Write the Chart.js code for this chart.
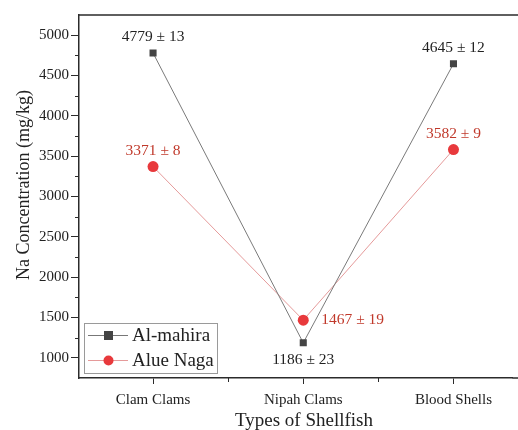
<!DOCTYPE html>
<html>
<head>
<meta charset="utf-8">
<script src="https://cdn.jsdelivr.net/npm/chart.js@4"></script>
<style>
  html, body { margin: 0; padding: 0; background: #fff; overflow: hidden; }
  #wrap { width: 518px; height: 430px; }
</style>
</head>
<body>
<div id="wrap"><canvas id="naChart" width="518" height="430"></canvas></div>
<script>
// Dati
const categories = ['Clam Clams', 'Nipah Clams', 'Blood Shells'];
const alMahira = [4779, 1186, 4645];
const alMahiraErr = [13, 23, 12];
const alueNaga = [3371, 1467, 3582];
const alueNagaErr = [8, 19, 9];
const yTicks = [1000, 1500, 2000, 2500, 3000, 3500, 4000, 4500, 5000];
const yMinorTicks = [1250, 1750, 2250, 2750, 3250, 3750, 4250, 4750];
const xMinorTicks = [0.5, 1.5];

const serif = "'Liberation Serif', 'DejaVu Serif', serif";
const axisColor = '#2b2b2b';
const darkGray = '#444444';
const red = '#e8393c';
const redText = '#c0392b';

// posizione delle etichette rispetto al punto: [dx, dy, allineamento]
const labelPlace = {
  0: [[0, -16, 'center'], [0, 17, 'center'], [0, -16, 'center']],
  1: [[0, -16, 'center'], [18, 0, 'left'], [0, -16, 'center']]
};

const toPoints = arr => arr.map((v, i) => ({ x: i, y: v }));

// Plugin per cornice, tacche minori, etichette, titoli e legenda
const decorPlugin = {
  id: 'decor',
  afterDraw(chart) {
    const { ctx, chartArea: a, scales: { x, y } } = chart;
    ctx.save();
    // cornice superiore (e prolungamento dell'asse x fino al bordo)
    ctx.strokeStyle = axisColor;
    ctx.lineWidth = 1.5;
    ctx.beginPath();
    ctx.moveTo(a.left, a.top);
    ctx.lineTo(518, a.top);
    ctx.moveTo(a.right, a.bottom);
    ctx.lineTo(518, a.bottom);
    ctx.stroke();
    // tacche minori
    ctx.lineWidth = 1;
    yMinorTicks.forEach(v => {
      const py = Math.round(y.getPixelForValue(v)) + 0.5;
      ctx.beginPath();
      ctx.moveTo(a.left - 4, py);
      ctx.lineTo(a.left, py);
      ctx.stroke();
    });
    xMinorTicks.forEach(v => {
      const px = Math.round(x.getPixelForValue(v)) + 0.5;
      ctx.beginPath();
      ctx.moveTo(px, a.bottom);
      ctx.lineTo(px, a.bottom + 4);
      ctx.stroke();
    });

    // etichette dei valori
    ctx.font = '15.5px ' + serif;
    ctx.textBaseline = 'middle';
    [[alMahira, alMahiraErr, '#222'], [alueNaga, alueNagaErr, redText]].forEach(([vals, errs, col], d) => {
      const meta = chart.getDatasetMeta(d);
      vals.forEach((v, i) => {
        const pt = meta.data[i];
        const [dx, dy, al] = labelPlace[d][i];
        ctx.fillStyle = col;
        ctx.textAlign = al;
        ctx.fillText(v + ' \u00b1 ' + errs[i], pt.x + dx, pt.y + dy);
      });
    });

    // titoli degli assi
    ctx.fillStyle = '#222';
    ctx.font = '19px ' + serif;
    ctx.textAlign = 'center';
    ctx.fillText('Types of Shellfish', 304, 421);
    ctx.save();
    ctx.translate(24, 185);
    ctx.rotate(-Math.PI / 2);
    ctx.font = '18px ' + serif;
    ctx.fillText('Na Concentration (mg/kg)', 0, 0);
    ctx.restore();

    // legenda
    const lx = 84, ly = 323, lw = 133, lh = 50;
    ctx.fillStyle = '#fff';
    ctx.fillRect(lx, ly, lw, lh);
    ctx.strokeStyle = '#9a9a9a';
    ctx.lineWidth = 1;
    ctx.strokeRect(lx + 0.5, ly + 0.5, lw, lh);
    const items = [['Al-mahira', '#777', darkGray, 'rect'], ['Alue Naga', '#e59a9a', red, 'circle']];
    items.forEach(([txt, lineCol, markCol, shape], k) => {
      const cy = ly + 12 + k * 25;
      ctx.strokeStyle = lineCol;
      ctx.beginPath();
      ctx.moveTo(lx + 4, cy + 0.5);
      ctx.lineTo(lx + 44, cy + 0.5);
      ctx.stroke();
      ctx.fillStyle = markCol;
      if (shape === 'rect') {
        ctx.fillRect(lx + 20, cy - 4, 9, 9);
      } else {
        ctx.beginPath();
        ctx.arc(lx + 24.5, cy + 0.5, 5, 0, Math.PI * 2);
        ctx.fill();
      }
      ctx.fillStyle = '#222';
      ctx.font = '19px ' + serif;
      ctx.textAlign = 'left';
      ctx.fillText(txt, lx + 48, cy + 1);
    });
    ctx.restore();
  }
};

new Chart(document.getElementById('naChart'), {
  type: 'line',
  data: {
    datasets: [
      {
        label: 'Al-mahira',
        data: toPoints(alMahira),
        borderColor: '#7a7a7a',
        borderWidth: 1,
        pointStyle: 'rect',
        pointRadius: 5,
        pointBackgroundColor: darkGray,
        pointBorderColor: darkGray,
        pointBorderWidth: 0
      },
      {
        label: 'Alue Naga',
        data: toPoints(alueNaga),
        borderColor: '#e59a9a',
        borderWidth: 1,
        pointStyle: 'circle',
        pointRadius: 5.5,
        pointBackgroundColor: red,
        pointBorderColor: red,
        pointBorderWidth: 0
      }
    ]
  },
  options: {
    responsive: false,
    animation: false,
    layout: { padding: { top: 15, right: 0, left: 0, bottom: 0 } },
    plugins: { legend: { display: false }, tooltip: { enabled: false } },
    scales: {
      x: {
        type: 'linear',
        min: -0.493,
        max: 2.393,
        afterBuildTicks: s => { s.ticks = categories.map((c, i) => ({ value: i })); },
        afterFit: s => { s.height = 52; s.paddingLeft = 0; s.paddingRight = 0; },
        ticks: {
          color: '#222',
          font: { family: serif, size: 15 },
          padding: 7,
          maxRotation: 0,
          callback: v => categories[v] || ''
        },
        grid: { drawOnChartArea: false, drawTicks: true, tickLength: 6, tickColor: axisColor, tickWidth: 1 },
        border: { color: axisColor, width: 1.5 }
      },
      y: {
        min: 750,
        max: 5250,
        afterBuildTicks: s => { s.ticks = yTicks.map(v => ({ value: v })); },
        afterFit: s => { s.width = 79; },
        ticks: {
          color: '#222',
          font: { family: serif, size: 15 },
          padding: 2,
          callback: v => String(v)
        },
        grid: { drawOnChartArea: false, drawTicks: true, tickLength: 8, tickColor: axisColor, tickWidth: 1 },
        border: { color: axisColor, width: 1.5 }
      }
    }
  },
  plugins: [decorPlugin]
});
</script>
</body>
</html>
